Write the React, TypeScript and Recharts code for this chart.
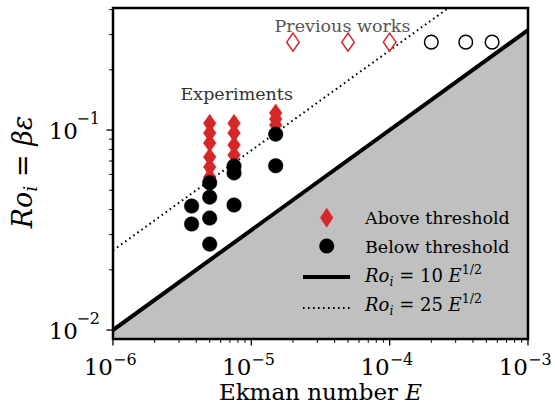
import React from 'react';
import { ComposedChart, XAxis, YAxis, Scatter, Line, Area } from 'recharts';

const FONT = '"DejaVu Serif", serif';
const RED = '#d62728';
const GRAY_FILL = '#c0c0c0';

const X_DOMAIN: [number, number] = [1e-6, 1e-3];
const Y_DOMAIN: [number, number] = [0.00902, 0.4074];

const X_TICKS = [
  1e-6, 2e-6, 3e-6, 4e-6, 5e-6, 6e-6, 7e-6, 8e-6, 9e-6,
  1e-5, 2e-5, 3e-5, 4e-5, 5e-5, 6e-5, 7e-5, 8e-5, 9e-5,
  1e-4, 2e-4, 3e-4, 4e-4, 5e-4, 6e-4, 7e-4, 8e-4, 9e-4,
  1e-3,
];
const Y_TICKS = [0.01, 0.02, 0.03, 0.04, 0.05, 0.06, 0.07, 0.08, 0.09, 0.1, 0.2, 0.3, 0.4];

// Experiments, above threshold (filled red diamonds)
const aboveE = [5e-6, 5e-6, 5e-6, 5e-6, 5e-6, 5e-6, 7.5e-6, 7.5e-6, 7.5e-6, 7.5e-6, 1.5e-5, 1.5e-5, 1.5e-5];
const aboveRo = [0.108, 0.0966, 0.0861, 0.0733, 0.0653, 0.0582, 0.108, 0.0966, 0.0841, 0.075, 0.1216, 0.1135, 0.106];

// Experiments, below threshold (filled black circles)
const belowE = [3.7e-6, 3.7e-6, 5e-6, 5e-6, 5e-6, 5e-6, 7.5e-6, 7.5e-6, 7.5e-6, 1.5e-5, 1.5e-5];
const belowRo = [0.0417, 0.0339, 0.0545, 0.0462, 0.0363, 0.0269, 0.066, 0.061, 0.0422, 0.0953, 0.0663];

// Previous works
const prevDiamondE = [2e-5, 5e-5, 1e-4];
const prevDiamondRo = [0.275, 0.275, 0.275];
const prevCircleE = [2e-4, 3.55e-4, 5.5e-4];
const prevCircleRo = [0.275, 0.275, 0.275];

// Threshold lines Ro = 10 E^1/2 and Ro = 25 E^1/2 (straight on log-log)
const lineE = [1e-6, 1e-3];
const line10Ro = [0.01, 0.3162];
const line25Ro = [0.025, 0.7906];

const zip = (xs: number[], ys: number[]) => xs.map((E, i) => ({ E, Ro: ys[i] }));

const aboveData = zip(aboveE, aboveRo);
const belowData = zip(belowE, belowRo);
const prevDiamondData = zip(prevDiamondE, prevDiamondRo);
const prevCircleData = zip(prevCircleE, prevCircleRo);
const line10Data = zip(lineE, line10Ro);
const line25Data = zip(lineE, line25Ro);

const isMajor = (v: number) => {
  const lg = Math.log10(v);
  return Math.abs(lg - Math.round(lg)) < 1e-6;
};

const XTick = (props: any) => {
  const { x, y, payload } = props;
  const v = payload.value;
  const major = isMajor(v);
  const exp = Math.round(Math.log10(v));
  return (
    <g>
      <line x1={x} x2={x} y1={y} y2={y + (major ? 6.5 : 3.8)} stroke="#000" strokeWidth={major ? 1.3 : 1} />
      {major && (
        <>
          <text x={x} y={y + 36} textAnchor="end" fontFamily={FONT} fontSize={23} fill="#000">10</text>
          <text x={x} y={y + 26} textAnchor="start" fontFamily={FONT} fontSize={16} fill="#000">{'\u2212' + String(-exp)}</text>
        </>
      )}
    </g>
  );
};

const YTick = (props: any) => {
  const { x, y, payload } = props;
  const v = payload.value;
  const major = isMajor(v);
  const exp = Math.round(Math.log10(v));
  return (
    <g>
      <line x1={x} x2={x - (major ? 6.5 : 3.8)} y1={y} y2={y} stroke="#000" strokeWidth={major ? 1.3 : 1} />
      {major && (
        <>
          <text x={x - 35} y={y + 9} textAnchor="end" fontFamily={FONT} fontSize={23} fill="#000">10</text>
          <text x={x - 13} y={y - 6} textAnchor="end" fontFamily={FONT} fontSize={16} fill="#000">{'\u2212' + String(-exp)}</text>
        </>
      )}
    </g>
  );
};

const diamondShape = (fill: string, stroke: string, sw: number) => (props: any) => {
  const { cx, cy } = props;
  if (cx == null || cy == null) return <g />;
  const hw = 6.3;
  const hh = 9;
  return (
    <polygon
      points={`${cx},${cy - hh} ${cx + hw},${cy} ${cx},${cy + hh} ${cx - hw},${cy}`}
      fill={fill}
      stroke={stroke}
      strokeWidth={sw}
    />
  );
};

const circleShape = (fill: string, stroke: string, sw: number, r: number) => (props: any) => {
  const { cx, cy } = props;
  if (cx == null || cy == null) return <g />;
  return <circle cx={cx} cy={cy} r={r} fill={fill} stroke={stroke} strokeWidth={sw} />;
};

const MathLabel = ({ x, y, coef, size }: { x: number; y: number; coef: string; size: number }) => (
  <text x={x} y={y} fontFamily={FONT} fontSize={size} fill="#000">
    <tspan fontStyle="italic">Ro</tspan>
    <tspan fontStyle="italic" fontSize={size * 0.7} dy={4}>i</tspan>
    <tspan dy={-4}>{' = ' + coef + ' '}</tspan>
    <tspan fontStyle="italic">E</tspan>
    <tspan fontSize={size * 0.7} dy={-8}>1/2</tspan>
  </text>
);

export default function App() {
  return (
    <div style={{ position: 'absolute', left: 0, top: 0, width: 555, height: 404, background: '#fff' }}>
      <ComposedChart
        width={555}
        height={404}
        margin={{ top: 8, right: 27, bottom: 25, left: 53 }}
      >
        <XAxis
          dataKey="E"
          type="number"
          scale="log"
          domain={X_DOMAIN}
          allowDataOverflow
          ticks={X_TICKS}
          interval={0}
          tick={XTick}
          tickLine={false}
          axisLine={false}
          tickSize={0}
          tickMargin={0}
          height={40}
        />
        <YAxis
          dataKey="Ro"
          type="number"
          scale="log"
          domain={Y_DOMAIN}
          allowDataOverflow
          ticks={Y_TICKS}
          interval={0}
          tick={YTick}
          tickLine={false}
          axisLine={false}
          tickSize={0}
          tickMargin={0}
          width={60}
        />
        <Area
          data={line10Data}
          dataKey="Ro"
          type="linear"
          fill={GRAY_FILL}
          fillOpacity={1}
          stroke="none"
          baseValue={Y_DOMAIN[0]}
          isAnimationActive={false}
        />
        <Line
          data={line10Data}
          dataKey="Ro"
          type="linear"
          stroke="#000"
          strokeWidth={4}
          dot={false}
          activeDot={false}
          isAnimationActive={false}
        />
        <Scatter data={aboveData} shape={diamondShape(RED, RED, 0.6)} isAnimationActive={false} />
        <Line
          data={line25Data}
          dataKey="Ro"
          type="linear"
          stroke="#000"
          strokeWidth={2}
          strokeDasharray="1.6 3.4"
          dot={false}
          activeDot={false}
          isAnimationActive={false}
        />
        <Scatter data={belowData} shape={circleShape('#000', '#000', 0.5, 7.3)} isAnimationActive={false} />
        <Scatter data={prevDiamondData} shape={diamondShape('none', RED, 1.5)} isAnimationActive={false} />
        <Scatter data={prevCircleData} shape={circleShape('none', '#000', 1.5, 6.8)} isAnimationActive={false} />
      </ComposedChart>
      <svg
        width={555}
        height={404}
        style={{ position: 'absolute', left: 0, top: 0, pointerEvents: 'none' }}
      >
        <rect x={113} y={8} width={415} height={331} fill="none" stroke="#000" strokeWidth={2.5} />
        <text x={342.5} y={31.5} textAnchor="middle" fontFamily={FONT} fontSize={17.5} fill="#555">Previous works</text>
        <text x={236.7} y={100} textAnchor="middle" fontFamily={FONT} fontSize={17.5} fill="#333">Experiments</text>

        {/* legend */}
        <polygon points="326.7,208.2 333,217.7 326.7,227.2 320.4,217.7" fill={RED} stroke={RED} strokeWidth={0.6} />
        <text x={365} y={224} fontFamily={FONT} fontSize={17.5} fill="#000">Above threshold</text>
        <circle cx={326.7} cy={246} r={7.5} fill="#000" />
        <text x={365} y={252.5} fontFamily={FONT} fontSize={17.5} fill="#000">Below threshold</text>
        <line x1={303} x2={350} y1={277} y2={277} stroke="#000" strokeWidth={4} />
        <MathLabel x={365} y={281.5} coef="10" size={18} />
        <line x1={303} x2={350} y1={308} y2={308} stroke="#000" strokeWidth={2} strokeDasharray="1.6 3.4" />
        <MathLabel x={365} y={310.5} coef="25" size={18} />

        {/* axis titles */}
        <text x={320.5} y={400} textAnchor="middle" fontFamily={FONT} fontSize={23} fill="#000">
          Ekman number <tspan fontStyle="italic">E</tspan>
        </text>
        <text
          x={0}
          y={0}
          transform="translate(32,172) rotate(-90)"
          textAnchor="middle"
          fontFamily={FONT}
          fontSize={27}
          fill="#000"
        >
          <tspan fontStyle="italic">Ro</tspan>
          <tspan fontStyle="italic" fontSize={19} dy={5}>i</tspan>
          <tspan dy={-5}>{' = '}</tspan>
          <tspan fontStyle="italic">βε</tspan>
        </text>
      </svg>
    </div>
  );
}
